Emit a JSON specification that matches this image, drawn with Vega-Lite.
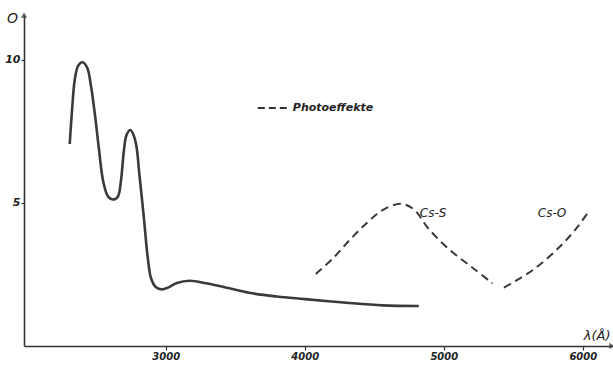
{
  "$schema": "https://vega.github.io/schema/vega-lite/v6.json",
  "width": 588,
  "height": 331,
  "autosize": "none",
  "padding": {"left": 24, "top": 15, "right": 1, "bottom": 19},
  "background": "white",
  "config": {
    "view": {"stroke": null},
    "axis": {"grid": false, "domainColor": "#333", "domainWidth": 1.6, "tickColor": "#333", "tickWidth": 1.2, "labelColor": "#222", "labelFont": "DejaVu Sans", "labelFontStyle": "italic", "labelFontWeight": "bold", "titleFont": "DejaVu Sans", "titleFontStyle": "italic", "titleColor": "#222"}
  },
  "datasets": {
    "solid": [
      {"lam": 2309, "v": 7.06}, {"lam": 2325, "v": 8.2}, {"lam": 2345, "v": 9.3}, {"lam": 2370, "v": 9.8},
      {"lam": 2401, "v": 9.92}, {"lam": 2435, "v": 9.72}, {"lam": 2460, "v": 9.15}, {"lam": 2490, "v": 8.1},
      {"lam": 2520, "v": 6.85}, {"lam": 2550, "v": 5.75}, {"lam": 2585, "v": 5.22}, {"lam": 2620, "v": 5.12},
      {"lam": 2655, "v": 5.22}, {"lam": 2678, "v": 5.8}, {"lam": 2698, "v": 6.8}, {"lam": 2718, "v": 7.38},
      {"lam": 2745, "v": 7.55}, {"lam": 2770, "v": 7.35}, {"lam": 2790, "v": 6.95}, {"lam": 2810, "v": 6.0},
      {"lam": 2840, "v": 4.6}, {"lam": 2870, "v": 3.1}, {"lam": 2895, "v": 2.35}, {"lam": 2930, "v": 2.05},
      {"lam": 2970, "v": 1.98}, {"lam": 3020, "v": 2.05}, {"lam": 3080, "v": 2.2}, {"lam": 3170, "v": 2.28},
      {"lam": 3280, "v": 2.2}, {"lam": 3410, "v": 2.07}, {"lam": 3600, "v": 1.86}, {"lam": 3800, "v": 1.73},
      {"lam": 4000, "v": 1.64}, {"lam": 4300, "v": 1.51}, {"lam": 4560, "v": 1.42}, {"lam": 4820, "v": 1.4}
    ],
    "dashed": [
      {"series": "Cs-S", "lam": 4079, "v": 2.52}, {"series": "Cs-S", "lam": 4204, "v": 3.07},
      {"series": "Cs-S", "lam": 4324, "v": 3.71}, {"series": "Cs-S", "lam": 4444, "v": 4.29},
      {"series": "Cs-S", "lam": 4563, "v": 4.76}, {"series": "Cs-S", "lam": 4695, "v": 4.97},
      {"series": "Cs-S", "lam": 4790, "v": 4.75}, {"series": "Cs-S", "lam": 4890, "v": 4.1},
      {"series": "Cs-S", "lam": 5043, "v": 3.36}, {"series": "Cs-S", "lam": 5211, "v": 2.72},
      {"series": "Cs-S", "lam": 5350, "v": 2.19},
      {"series": "Cs-O", "lam": 5432, "v": 2.04}, {"series": "Cs-O", "lam": 5642, "v": 2.66},
      {"series": "Cs-O", "lam": 5834, "v": 3.47}, {"series": "Cs-O", "lam": 5955, "v": 4.12},
      {"series": "Cs-O", "lam": 6050, "v": 4.76}
    ],
    "labels": [
      {"lam": 4827, "v": 4.65, "label": "Cs-S"},
      {"lam": 5676, "v": 4.65, "label": "Cs-O"}
    ]
  },
  "layer": [
    {
      "data": {"name": "solid"},
      "mark": {"type": "line", "interpolate": "catmull-rom", "color": "#3a3a3a", "strokeWidth": 2.6},
      "encoding": {
        "x": {"field": "lam", "type": "quantitative", "scale": {"domain": [1980, 6210], "nice": false, "zero": false},
              "axis": {"values": [3000, 4000, 5000, 6000], "tickSize": 4, "labelFontSize": 10, "labelPadding": 1, "format": "d",
                       "title": "λ(Å)", "titleFontSize": 13, "titleFontWeight": "normal", "titleAnchor": null, "titleX": 586, "titleY": -4, "titleAlign": "right", "titleBaseline": "bottom"}},
        "y": {"field": "v", "type": "quantitative", "scale": {"domain": [0, 11.57], "nice": false},
              "axis": {"values": [5, 10], "tickSize": 3, "labelFontSize": 11, "labelPadding": 1,
                       "title": "O", "titleFontSize": 14, "titleFontWeight": "normal", "titleAngle": 0, "titleX": -12, "titleY": 3, "titleAlign": "center", "titleBaseline": "middle"}}
      }
    },
    {
      "data": {"name": "dashed"},
      "mark": {"type": "line", "interpolate": "catmull-rom", "color": "#3a3a3a", "strokeWidth": 2, "strokeDash": [8, 5]},
      "encoding": {
        "x": {"field": "lam", "type": "quantitative"},
        "y": {"field": "v", "type": "quantitative"},
        "detail": {"field": "series"}
      }
    },
    {
      "data": {"values": [{"a": 3662, "b": 3871, "v": 8.32}]},
      "mark": {"type": "rule", "color": "#333", "strokeWidth": 2, "strokeDash": [7, 4]},
      "encoding": {
        "x": {"field": "a", "type": "quantitative"},
        "x2": {"field": "b"},
        "y": {"field": "v", "type": "quantitative"}
      }
    },
    {
      "data": {"values": [{"lam": 3914, "v": 8.32, "label": "Photoeffekte"}]},
      "mark": {"type": "text", "align": "left", "baseline": "middle", "font": "DejaVu Sans", "fontStyle": "italic", "fontWeight": "bold", "fontSize": 11, "color": "#222"},
      "encoding": {
        "x": {"field": "lam", "type": "quantitative"},
        "y": {"field": "v", "type": "quantitative"},
        "text": {"field": "label"}
      }
    },
    {
      "data": {"name": "labels"},
      "mark": {"type": "text", "align": "left", "baseline": "middle", "font": "DejaVu Sans", "fontStyle": "italic", "fontSize": 12, "color": "#222"},
      "encoding": {
        "x": {"field": "lam", "type": "quantitative"},
        "y": {"field": "v", "type": "quantitative"},
        "text": {"field": "label"}
      }
    },
    {
      "data": {"values": [{"lam": 1980, "v": 11.57, "s": "triangle-up"}, {"lam": 6210, "v": 0, "s": "triangle-right"}]},
      "mark": {"type": "point", "filled": true, "color": "#333", "size": 40},
      "encoding": {
        "x": {"field": "lam", "type": "quantitative"},
        "y": {"field": "v", "type": "quantitative"},
        "shape": {"field": "s", "type": "nominal", "scale": null}
      }
    }
  ]
}
